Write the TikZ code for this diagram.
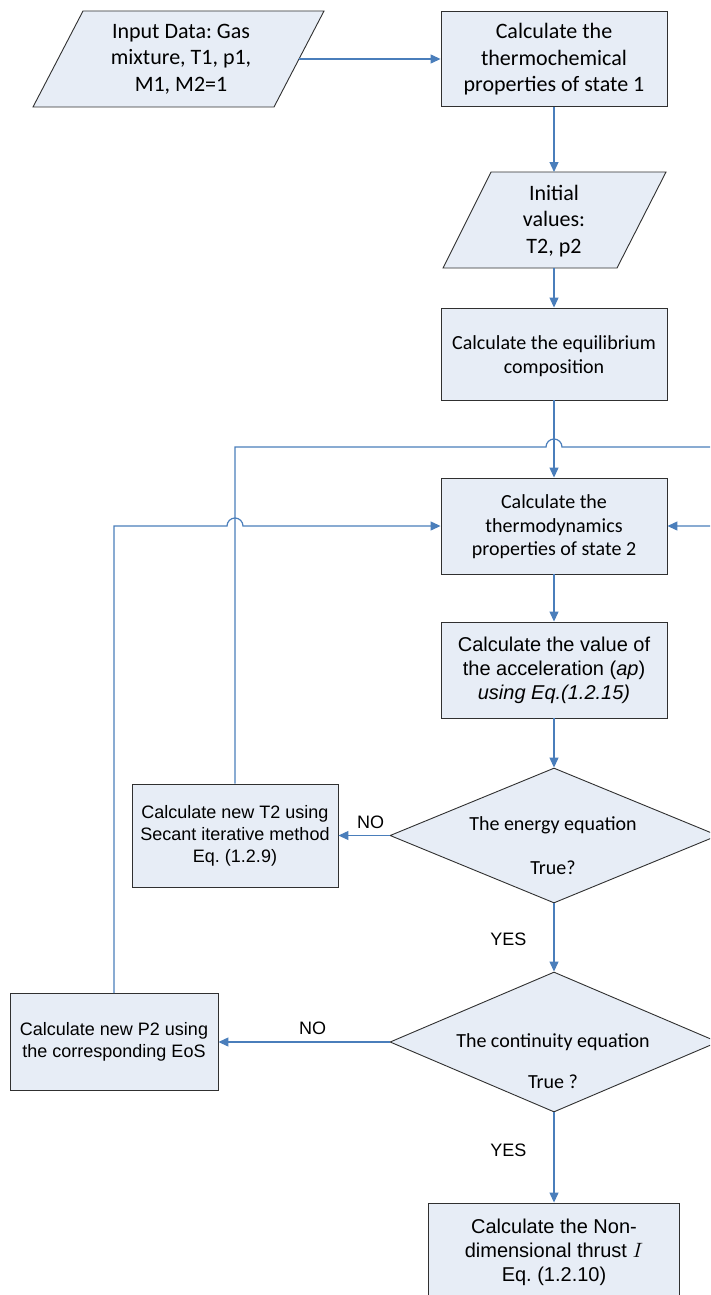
\documentclass[tikz,border=0pt]{standalone}
\usepackage{fontspec}
\setmainfont{Carlito}
\newfontfamily\arialf{Liberation Sans}
\usetikzlibrary{arrows.meta,shapes.geometric}
\definecolor{boxfill}{HTML}{E7EDF6}
\definecolor{linec}{HTML}{4A7EBB}
\definecolor{edgec}{HTML}{303030}
\newcommand{\cbig}{\fontsize{22}{26.5}\selectfont}
\newcommand{\cmid}{\fontsize{20}{23.5}\selectfont}
\newcommand{\abig}{\arialf\fontsize{20}{24}\selectfont}
\newcommand{\asmall}{\arialf\fontsize{18}{22}\selectfont}
\frenchspacing
\begin{document}
\begin{tikzpicture}[x=1pt,y=-1pt,
  shapebox/.style={draw=edgec, fill=boxfill, line width=0.9pt, inner sep=0pt},
  rectbox/.style={shapebox, rectangle, minimum width=226pt},
  decision/.style={shapebox, diamond, minimum width=328pt, minimum height=135pt},
  txt/.style={align=center, inner sep=0pt, text=black},
  flow/.style={draw=linec, line width=1.2pt, -{Triangle[length=10pt,width=9pt]}},
  lab/.style={font=\asmall, inner sep=0pt, text=black}
]
\useasboundingbox (0,0) rectangle (710,1295);
\clip (0,0) rectangle (710,1295);
\fill[white] (0,0) rectangle (710,1295);

% parallelogram 1
\coordinate (pa1tl) at (83,11);
\coordinate (pa1tr) at (324,11);
\coordinate (pa1br) at (274,107);
\coordinate (pa1bl) at (33,107);
\coordinate (pa1r) at (299,59);
\filldraw[shapebox] (pa1tl) -- (pa1tr) -- (pa1br) -- (pa1bl) -- cycle;
\node[txt, font=\cbig] (in) at (181,59) {Input Data: Gas\\mixture, T1, p1,\\M1, M2=1};

% rect 1
\node[rectbox, minimum height=95pt] (r1) at (554,59) {};
\node[txt, font=\cbig] (r1t) at (554,59.5) {Calculate the\\thermochemical\\properties of state 1};

% parallelogram 2
\coordinate (pa2tl) at (491,172);
\coordinate (pa2tr) at (666,172);
\coordinate (pa2br) at (617,268);
\coordinate (pa2bl) at (443,268);
\coordinate (pa2t) at (554,172);
\coordinate (pa2b) at (554,268);
\filldraw[shapebox] (pa2tl) -- (pa2tr) -- (pa2br) -- (pa2bl) -- cycle;
\node[txt, font=\cbig] (iv) at (554,221) {Initial\\values:\\T2, p2};

% equilibrium
\node[rectbox, minimum height=92pt] (eq) at (554,354) {};
\node[txt, font=\cmid] (eqt) at (554,356) {Calculate the equilibrium\\composition};

% thermodynamics
\node[rectbox, minimum height=96pt] (th) at (554,526) {};
\node[txt, font=\cmid] (tht) at (554,527) {Calculate the\\thermodynamics\\properties of state 2};

% acceleration
\node[rectbox, minimum height=96pt] (ac) at (554,670) {};
\node[txt, font=\abig] (act) at (554,670) {Calculate the value of\\the acceleration (\textit{ap})\\\textit{using Eq.(1.2.15)}};

% decision 1
\node[decision] (d1) at (554,835.5) {};
\node[txt, font=\cmid] (d1a) at (553,825) {The energy equation};
\node[txt, font=\cmid] (d1b) at (553,868) {True?};

% T2 box
\node[shapebox, rectangle, minimum width=206pt, minimum height=103pt] (t2) at (235,835.5) {};
\node[txt, font=\asmall] (t2txt) at (235,836) {Calculate new T2 using\\Secant iterative method\\Eq. (1.2.9)};

% decision 2
\node[decision, minimum height=140pt] (d2) at (554,1042) {};
\node[txt, font=\cmid] (d2a) at (553,1042) {The continuity equation};
\node[txt, font=\cmid] (d2b) at (553,1082) {True ?};

% P2 box
\node[shapebox, rectangle, minimum width=208pt, minimum height=97pt] (p2) at (114,1042) {};
\node[txt, font=\asmall] (p2txt) at (114,1042) {Calculate new P2 using\\the corresponding EoS};

% final box
\node[shapebox, rectangle, minimum width=251pt, minimum height=110pt] (fin) at (554,1258) {};
\node[txt, font=\abig] (fint) at (554,1252) {Calculate the Non-\\dimensional thrust $I$\\Eq. (1.2.10)};

% connectors
\draw[flow] (pa1r) -- (r1.west);
\draw[flow] (r1.south) -- (pa2t);
\draw[flow] (pa2b) -- (eq.north);
\draw[flow] (eq.south) -- (th.north);
\draw[flow] (th.south) -- (ac.north);
\draw[flow] (ac.south) -- (d1.north);
\draw[flow] (d1.west) -- node[lab, above=6pt, pos=0.37] (no1) {NO} (t2.east);
\draw[flow] (d1.south) -- node[lab, left=27pt, pos=0.52] (yes1) {YES} (d2.north);
\draw[flow] (d2.west) -- node[lab, above=7pt, pos=0.45] (no2) {NO} (p2.east);
\draw[flow] (d2.south) -- node[lab, left=27pt, pos=0.42] (yes2) {YES} (fin.north);

% loop from T2 box (hop over main line)
\draw[flow] (t2.north) -- (235,447) -- (546,447)
  arc[start angle=180, end angle=360, radius=8] -- (730,447) -- (730,526) -- (th.east);
% loop from P2 box (hop over T2 loop)
\draw[flow] (p2.north) -- (114,526) -- (227,526)
  arc[start angle=180, end angle=360, radius=8] -- (th.west);
\end{tikzpicture}
\end{document}
